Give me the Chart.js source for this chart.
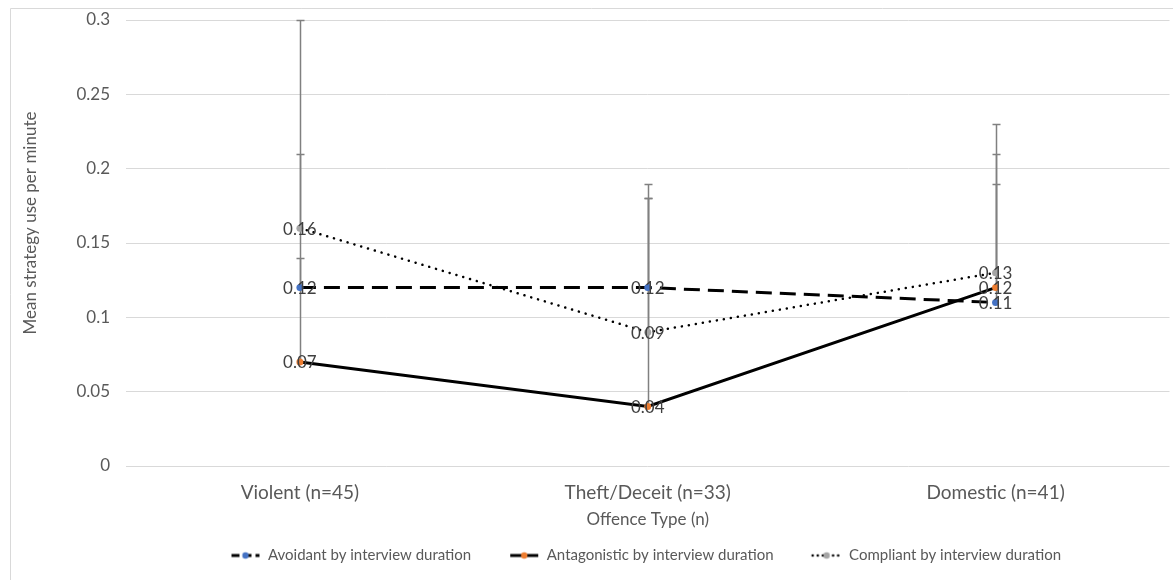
<!DOCTYPE html>
<html>
<head>
<meta charset="utf-8">
<script src="https://cdn.jsdelivr.net/npm/chart.js@4.4.1/dist/chart.umd.min.js"></script>
<style>
  html, body { margin: 0; padding: 0; background: #ffffff; }
  #wrap { width: 1173px; height: 580px; position: relative; }
</style>
</head>
<body>
<div id="wrap"><canvas id="c" width="1173" height="580"></canvas></div>
<script>
// Offence categories and mean strategy use per minute
const categories = ['Violent (n=45)', 'Theft/Deceit (n=33)', 'Domestic (n=41)'];
const seriesNames = ['Avoidant by interview duration', 'Antagonistic by interview duration', 'Compliant by interview duration'];
const avoidant = [0.12, 0.12, 0.11];
const antagonistic = [0.07, 0.04, 0.12];
const compliant = [0.16, 0.09, 0.13];
// Positive error amounts (upper whiskers only)
const avoidantErr = [0.09, 0.07, 0.08];
const antagonisticErr = [0.07, 0.14, 0.09];
const compliantErr = [0.14, 0.09, 0.10];
const yTicks = [0, 0.05, 0.1, 0.15, 0.2, 0.25, 0.3];
const yTitle = 'Mean strategy use per minute';
const xTitle = 'Offence Type (n)';

const FONT = 'Lato, "Open Sans", sans-serif';
const TEXT = '#595959';
const markerColors = ['#4472C4', '#ED7D31', '#A5A5A5'];
const dashes = [[16, 8], [], [0.1, 7]];
const widths = [3, 3, 2.5];
const caps = ['butt', 'butt', 'round'];
const SWATCH_LEAD = 28;   // empty space before each legend swatch (item spacing)
const SWATCH_W = 30;

// Legend swatch: line in the series style with a marker in the middle
function swatch(i) {
  const c = document.createElement('canvas');
  c.width = SWATCH_LEAD + SWATCH_W; c.height = 10;
  const g = c.getContext('2d');
  const x0 = SWATCH_LEAD;
  g.strokeStyle = '#000';
  g.lineWidth = widths[i];
  g.lineCap = caps[i];
  g.setLineDash(i === 0 ? [8, 4] : (i === 2 ? [0.1, 5] : []));
  g.beginPath(); g.moveTo(x0 + 1, 5); g.lineTo(x0 + SWATCH_W - 1, 5); g.stroke();
  g.setLineDash([]);
  g.fillStyle = markerColors[i];
  g.beginPath(); g.arc(x0 + SWATCH_W / 2, 5, 3.2, 0, Math.PI * 2); g.fill();
  return c;
}

const errorBars = {
  id: 'errorBars',
  afterLayout(chart) {
    // the legend row sits slightly left of the plot's centre
    if (chart.legend) { chart.legend.left -= 16; chart.legend.right -= 16; }
  },
  beforeDatasetsDraw(chart) {
    const { ctx, scales: { x, y } } = chart;
    ctx.save();
    ctx.strokeStyle = '#808080';
    ctx.lineWidth = 1.5;
    chart.data.datasets.forEach(ds => {
      ds.errPlus.forEach((e, j) => {
        const px = Math.round(x.getPixelForValue(j)) + 0.5;
        const y0 = y.getPixelForValue(ds.data[j]);
        const y1 = Math.round(y.getPixelForValue(ds.data[j] + e)) + 0.5;
        ctx.beginPath();
        ctx.moveTo(px, y0); ctx.lineTo(px, y1);
        ctx.moveTo(px - 4, y1); ctx.lineTo(px + 4, y1);
        ctx.stroke();
      });
    });
    ctx.restore();
  },
  afterDatasetsDraw(chart) {
    const { ctx } = chart;
    ctx.save();
    ctx.font = '17px ' + FONT;
    ctx.fillStyle = '#404040';
    ctx.textAlign = 'center';
    ctx.textBaseline = 'middle';
    chart.data.datasets.forEach((ds, i) => {
      chart.getDatasetMeta(i).data.forEach((pt, j) => {
        ctx.fillText(String(ds.data[j]), pt.x, pt.y + 1);
      });
    });
    ctx.restore();
  },
  beforeDraw(chart) {
    const { ctx } = chart;
    ctx.save();
    ctx.strokeStyle = '#D9D9D9';
    ctx.lineWidth = 1;
    ctx.beginPath();
    ctx.moveTo(10.5, 580); ctx.lineTo(10.5, 8.5); ctx.lineTo(1173, 8.5);
    ctx.stroke();
    ctx.restore();
  },
  afterDraw(chart) {
    // vertical axis title, placed a little above the plot's middle
    const { ctx, chartArea } = chart;
    ctx.save();
    ctx.font = '17px ' + FONT;
    ctx.fillStyle = TEXT;
    ctx.textAlign = 'center';
    ctx.textBaseline = 'middle';
    ctx.translate(31, (chartArea.top + chartArea.bottom) / 2 - 20);
    ctx.rotate(-Math.PI / 2);
    ctx.fillText(yTitle, 0, 0);
    ctx.restore();
  }
};

const seriesData = [avoidant, antagonistic, compliant];
const seriesErr = [avoidantErr, antagonisticErr, compliantErr];

const datasets = seriesNames.map((name, i) => ({
  label: name,
  data: seriesData[i],
  errPlus: seriesErr[i],
  legendSwatch: swatch(i),
  borderColor: '#000000',
  borderWidth: widths[i],
  borderDash: dashes[i],
  borderCapStyle: caps[i],
  pointRadius: 3.5,
  pointHoverRadius: 3.5,
  pointBackgroundColor: markerColors[i],
  pointBorderWidth: 0,
  pointStyle: 'circle',
  tension: 0,
  fill: false
}));

new Chart(document.getElementById('c'), {
  type: 'line',
  data: { labels: categories, datasets },
  plugins: [errorBars],
  options: {
    responsive: false,
    animation: false,
    events: [],
    layout: { padding: { top: 20, right: 2, left: 0, bottom: 7 } },
    plugins: {
      tooltip: { enabled: false },
      legend: {
        position: 'bottom',
        fullSize: false,
        labels: {
          font: { family: FONT, size: 15 },
          color: TEXT,
          usePointStyle: true,
          pointStyleWidth: SWATCH_LEAD + SWATCH_W,
          padding: 10,
          generateLabels(chart) {
            return chart.data.datasets.map((d, i) => ({
              text: d.label,
              pointStyle: d.legendSwatch,
              fillStyle: 'rgba(0,0,0,0)',
              strokeStyle: 'rgba(0,0,0,0)',
              lineWidth: 0,
              fontColor: TEXT,
              datasetIndex: i
            }));
          }
        }
      }
    },
    scales: {
      x: {
        offset: true,
        grid: { display: false, drawTicks: false, offset: true },
        border: { display: false },
        ticks: { font: { family: FONT, size: 19 }, color: TEXT, padding: 15, maxRotation: 0, autoSkip: false },
        title: { display: true, text: xTitle, font: { family: FONT, size: 17 }, color: TEXT, padding: { top: 0, bottom: 8 } },
        afterFit(s) { s.height = 72; s.paddingLeft = 0; s.paddingRight = 0; }
      },
      y: {
        min: 0, max: 0.3,
        afterBuildTicks(s) { s.ticks = yTicks.map(v => ({ value: v })); },
        grid: { color: '#D9D9D9', lineWidth: 1, drawTicks: false },
        border: { display: false },
        ticks: {
          font: { family: FONT, size: 17 }, color: TEXT, padding: 16,
          callback: v => String(Number(v.toFixed(2)))
        },
        afterFit(s) { s.width = 126; s.paddingTop = 0; s.paddingBottom = 0; }
      }
    }
  }
});
</script>
</body>
</html>
